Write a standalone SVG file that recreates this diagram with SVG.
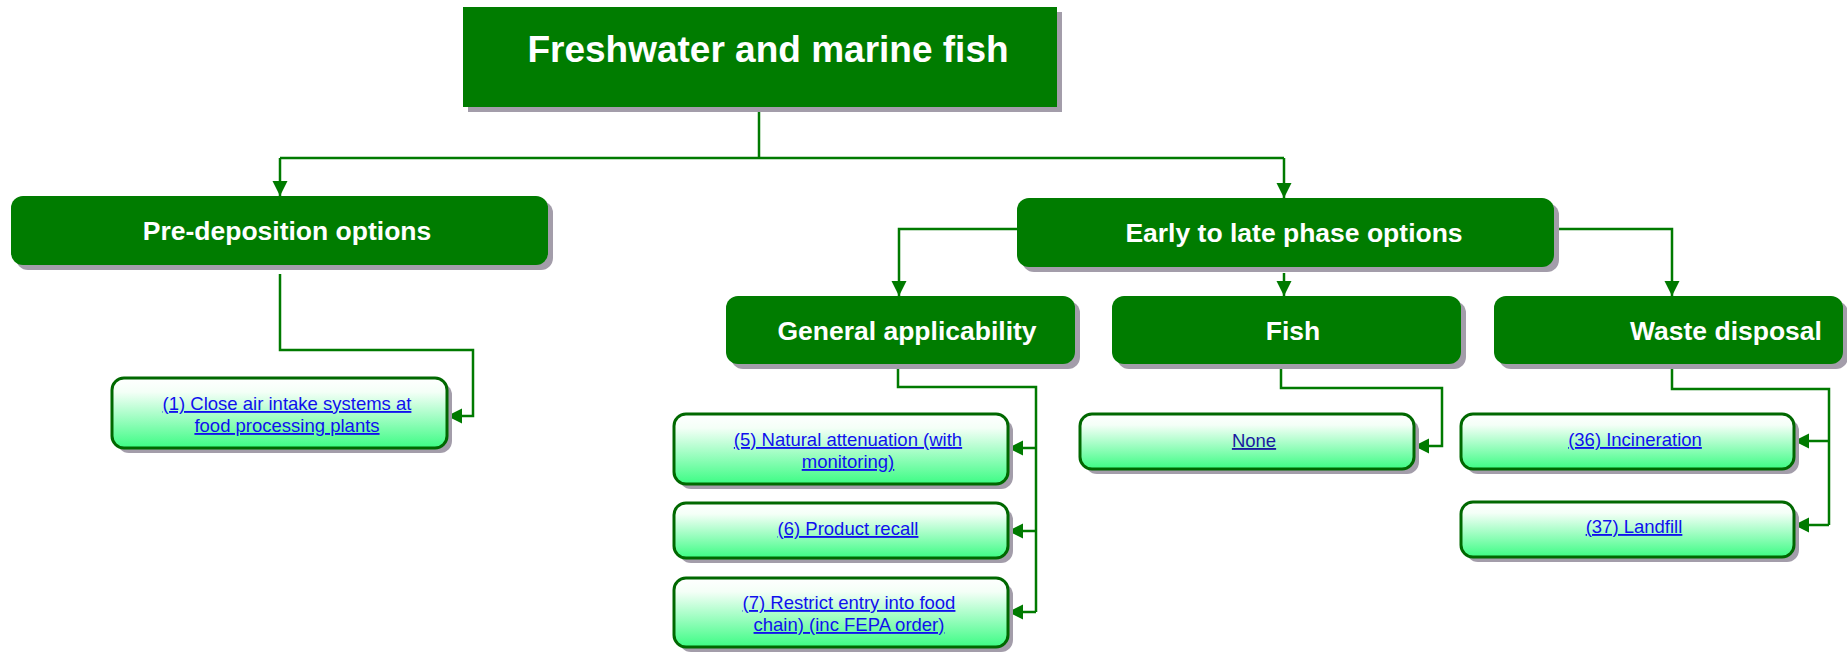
<svg xmlns="http://www.w3.org/2000/svg" width="1847" height="653" viewBox="0 0 1847 653">
<defs>
<linearGradient id="lg" x1="0" y1="0" x2="0" y2="1">
<stop offset="0" stop-color="#ffffff"/>
<stop offset="0.2" stop-color="#f4fff7"/>
<stop offset="1" stop-color="#3cfc84"/>
</linearGradient>
<marker id="ah" markerUnits="userSpaceOnUse" markerWidth="16" markerHeight="16" viewBox="0 0 16 16" refX="15" refY="8" orient="auto">
<path d="M0 0.5 L15 8 L0 15.5 Z" fill="#007a00"/>
</marker>
</defs>
<style>
.sh{fill:#a39daa}
.dk{fill:#007c00}
.lt{fill:url(#lg);stroke:#006800;stroke-width:3}
.ht{font-family:"Liberation Sans",Arial,sans-serif;font-weight:bold;fill:#ffffff;text-anchor:middle}
.lk{font-family:"Liberation Sans",Arial,sans-serif;font-size:18.5px;fill:#1010ee;text-anchor:middle;text-decoration:underline}
.cn{fill:none;stroke:#007a00;stroke-width:2.5}
</style>
<rect width="1847" height="653" fill="#ffffff"/>

<g id="connectors">
<path class="cn" d="M759 107 V158"/>
<path class="cn" d="M280 158 H1284"/>
<path class="cn" d="M280 158 V196" marker-end="url(#ah)"/>
<path class="cn" d="M1284 158 V198" marker-end="url(#ah)"/>
<path class="cn" d="M280 274 V350 H473 V416 H447" marker-end="url(#ah)"/>
<path class="cn" d="M1017 229 H899 V296" marker-end="url(#ah)"/>
<path class="cn" d="M1284 273 V296" marker-end="url(#ah)"/>
<path class="cn" d="M1554 229 H1672 V296" marker-end="url(#ah)"/>
<path class="cn" d="M898 364 V387 H1036 V612"/>
<path class="cn" d="M1036 448 H1008" marker-end="url(#ah)"/>
<path class="cn" d="M1036 531 H1008" marker-end="url(#ah)"/>
<path class="cn" d="M1036 612 H1008" marker-end="url(#ah)"/>
<path class="cn" d="M1281 365 V388 H1442 V446 H1414" marker-end="url(#ah)"/>
<path class="cn" d="M1672 364 V389 H1829 V525"/>
<path class="cn" d="M1829 441 H1794" marker-end="url(#ah)"/>
<path class="cn" d="M1829 525 H1794" marker-end="url(#ah)"/>
</g>

<g id="root">
<rect class="sh" x="468" y="12" width="594" height="100"/>
<rect class="dk" x="463" y="7" width="594" height="100"/>
<text class="ht" x="768" y="62" font-size="37">Freshwater and marine fish</text>
</g>

<g id="pre">
<rect class="sh" x="16" y="201" width="537" height="69" rx="12"/>
<rect class="dk" x="11" y="196" width="537" height="69" rx="12"/>
<text class="ht" x="287" y="240" font-size="26.5">Pre-deposition options</text>
</g>

<g id="early">
<rect class="sh" x="1022" y="203" width="537" height="69" rx="12"/>
<rect class="dk" x="1017" y="198" width="537" height="69" rx="12"/>
<text class="ht" x="1294" y="242" font-size="26.5">Early to late phase options</text>
</g>

<g id="general">
<rect class="sh" x="731" y="301" width="349" height="68" rx="12"/>
<rect class="dk" x="726" y="296" width="349" height="68" rx="12"/>
<text class="ht" x="907" y="340" font-size="26.5">General applicability</text>
</g>

<g id="fish">
<rect class="sh" x="1117" y="301" width="349" height="68" rx="12"/>
<rect class="dk" x="1112" y="296" width="349" height="68" rx="12"/>
<text class="ht" x="1293" y="340" font-size="26.5">Fish</text>
</g>

<g id="waste">
<rect class="sh" x="1499" y="301" width="349" height="68" rx="12"/>
<rect class="dk" x="1494" y="296" width="349" height="68" rx="12"/>
<text class="ht" x="1726" y="340" font-size="26.5">Waste disposal</text>
</g>

<g id="opt1">
<rect class="sh" x="117" y="383" width="335" height="70" rx="12"/>
<rect class="lt" x="112" y="378" width="335" height="70" rx="12"/>
<text class="lk" x="287" y="410">(1) Close air intake systems at</text>
<text class="lk" x="287" y="432">food processing plants</text>
</g>

<g id="opt5">
<rect class="sh" x="679" y="419" width="334" height="70" rx="12"/>
<rect class="lt" x="674" y="414" width="334" height="70" rx="12"/>
<text class="lk" x="848" y="446">(5) Natural attenuation (with</text>
<text class="lk" x="848" y="468">monitoring)</text>
</g>

<g id="opt6">
<rect class="sh" x="679" y="508" width="334" height="55" rx="12"/>
<rect class="lt" x="674" y="503" width="334" height="55" rx="12"/>
<text class="lk" x="848" y="535">(6) Product recall</text>
</g>

<g id="opt7">
<rect class="sh" x="679" y="583" width="334" height="69" rx="12"/>
<rect class="lt" x="674" y="578" width="334" height="69" rx="12"/>
<text class="lk" x="849" y="609">(7) Restrict entry into food</text>
<text class="lk" x="849" y="631">chain) (inc FEPA order)</text>
</g>

<g id="none">
<rect class="sh" x="1085" y="419" width="334" height="55" rx="12"/>
<rect class="lt" x="1080" y="414" width="334" height="55" rx="12"/>
<text class="lk" x="1254" y="447" style="fill:#1a1aa0">None</text>
</g>

<g id="opt36">
<rect class="sh" x="1466" y="419" width="333" height="55" rx="12"/>
<rect class="lt" x="1461" y="414" width="333" height="55" rx="12"/>
<text class="lk" x="1635" y="446">(36) Incineration</text>
</g>

<g id="opt37">
<rect class="sh" x="1466" y="507" width="333" height="55" rx="12"/>
<rect class="lt" x="1461" y="502" width="333" height="55" rx="12"/>
<text class="lk" x="1634" y="533">(37) Landfill</text>
</g>
</svg>
